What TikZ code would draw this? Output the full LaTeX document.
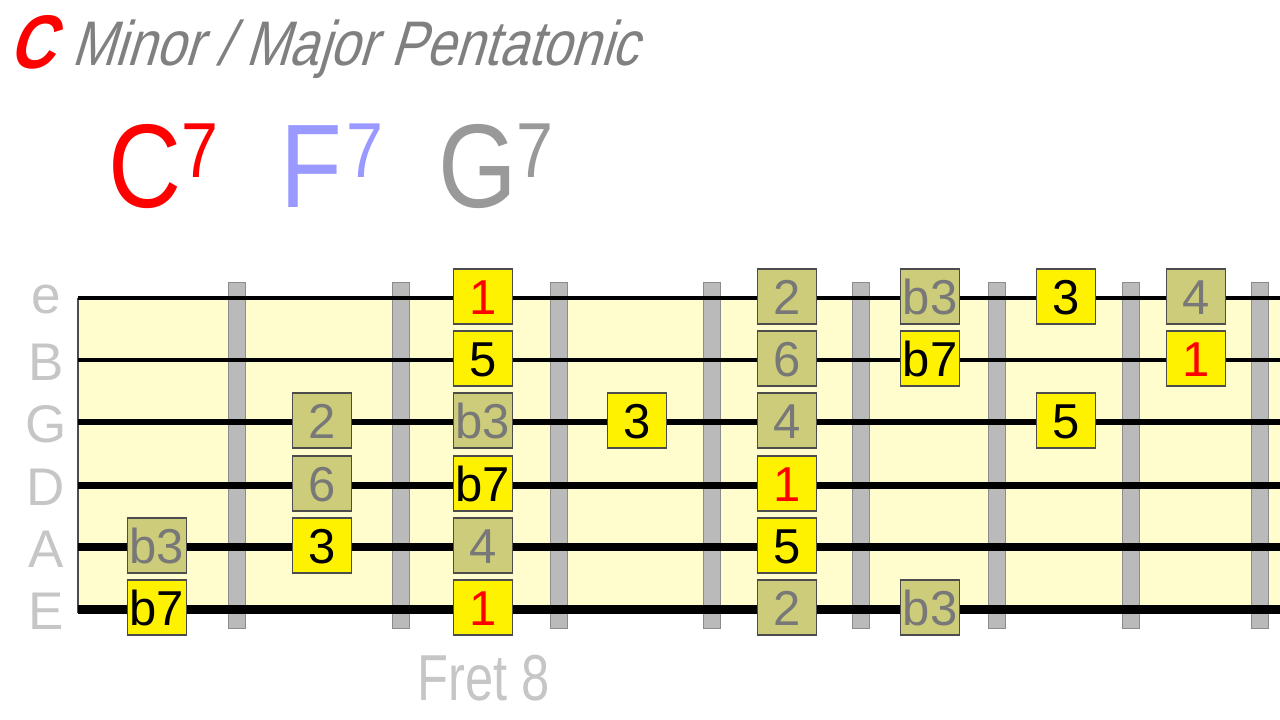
\documentclass[tikz,border=0pt]{standalone}
\usepackage{fontspec}
\setmainfont{Liberation Sans}
\newfontfamily\titlefont[FakeStretch=0.83,FakeSlant=0.3]{Liberation Sans}
\newfontfamily\chordfont[FakeStretch=0.85]{Liberation Sans}
\newfontfamily\fretfont[FakeStretch=0.78]{Liberation Sans}
\usetikzlibrary{positioning}

\definecolor{boardbg}{RGB}{255,252,206}
\definecolor{olivebox}{RGB}{204,204,122}
\definecolor{notegray}{RGB}{120,120,120}
\definecolor{labelgray}{RGB}{198,198,198}
\definecolor{titlegray}{RGB}{128,128,128}
\definecolor{chordblue}{RGB}{153,153,255}
\definecolor{chordgray}{RGB}{153,153,153}
\definecolor{fretgray}{RGB}{186,186,186}

\begin{document}
\begin{tikzpicture}[x=1bp,y=-1bp,
  notebox/.style={draw=black!70, line width=1.2bp, minimum width=59bp, minimum height=55bp,
    inner sep=0pt, text height=35bp, text depth=0pt, font=\fontsize{49bp}{49bp}\selectfont},
  chordtone/.style={notebox, fill=yellow, text=black},
  rootnote/.style={notebox, fill=yellow, text=red},
  passnote/.style={notebox, fill=olivebox, text=notegray},
  stringlabel/.style={anchor=base, inner sep=0pt, text=labelgray, font=\fontsize{53bp}{53bp}\selectfont},
  chordname/.style={anchor=base west, inner sep=0pt, font=\chordfont\fontsize{119bp}{119bp}\selectfont}]

\useasboundingbox (0,0) rectangle (1280,720);

\pgfmathsetmacro{\boardleft}{78}
\pgfmathsetmacro{\boardright}{1280}
\newcommand{\sev}{\fontsize{78bp}{78bp}\selectfont\raisebox{30bp}{7}}

% Title:
\node[anchor=base west, inner sep=0pt, text=red, font=\titlefont\bfseries\fontsize{76bp}{76bp}\selectfont] (key) at (8,69) {C};
\node[base right=17bp of key, yshift=3bp, inner sep=0pt, text=titlegray, font=\titlefont\fontsize{63bp}{63bp}\selectfont] (scalename) {Minor / Major Pentatonic};

% Chords:
\node[chordname, text=red] (chordC) at (108,208) {C\sev};
\node[chordname, text=chordblue] (chordF) at (280,208) {F\kern5bp\sev};
\node[chordname, text=chordgray] (chordG) at (438,208) {G\sev};

% Fretboard:
\fill[boardbg] (\boardleft,298) rectangle (\boardright,614);
\draw[black!70, line width=2bp] (\boardleft,298) -- (\boardleft,613);

% Frets:
\foreach \f in {237,401,559,712,861,997,1131,1260}
  \draw[fill=fretgray, draw=black!45, line width=1bp] (\f-8.5,282) rectangle (\f+8.5,628);

% Strings:
\foreach \s/\y/\w/\b in {e/298/4/15, B/360/4/20, G/422/5.5/20, D/485/7/20, A/547/7.7/20, E/609/9/20}{
  \draw[line width=\w bp] (\boardleft,\y) -- (\boardright,\y);
  \node[stringlabel] (lbl-\s) at (46,\y+\b) {\s};
}

% Notes:
\foreach \x/\y/\t/\k [count=\i] in {
  483/298/1/rootnote, 787/298/2/passnote, 930/298/b3/passnote, 1066/298/3/chordtone, 1196/298/4/passnote,
  483/360/5/chordtone, 787/360/6/passnote, 930/360/b7/chordtone, 1196/360/1/rootnote,
  322/422/2/passnote, 483/422/b3/passnote, 637/422/3/chordtone, 787/422/4/passnote, 1066/422/5/chordtone,
  322/485/6/passnote, 483/485/b7/chordtone, 787/485/1/rootnote,
  157/547/b3/passnote, 322/547/3/chordtone, 483/547/4/passnote, 787/547/5/chordtone,
  157/609/b7/chordtone, 483/609/1/rootnote, 787/609/2/passnote, 930/609/b3/passnote}
  \node[\k] (note\i) at (\x,\y-1.5) {\t};

% Position:
\node[anchor=base, inner sep=0pt, text=labelgray, font=\fretfont\fontsize{65bp}{65bp}\selectfont] (fretno) at (484,700) {Fret 8};

\end{tikzpicture}
\end{document}
